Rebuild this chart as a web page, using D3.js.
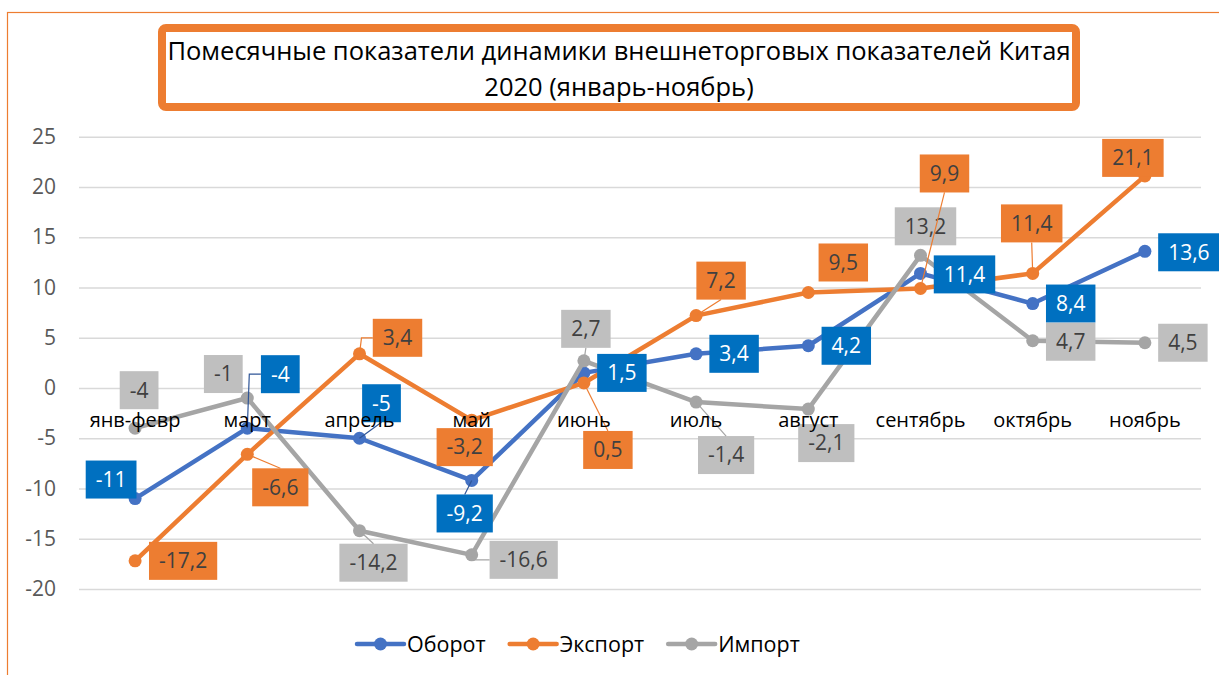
<!DOCTYPE html>
<html>
<head>
<meta charset="utf-8">
<script src="https://cdn.jsdelivr.net/npm/d3@7"></script>
<style>
  body { margin: 0; background: #fff; }
  svg { display: block; font-family: "Open Sans", sans-serif; }
</style>
</head>
<body>
<div id="chart"></div>
<script>
const W = 1219, H = 675;

// data
const titleLines = ["Помесячные показатели динамики внешнеторговых показателей Китая", "2020 (январь-ноябрь)"];
const months = ["янв-февр", "март", "апрель", "май", "июнь", "июль", "август", "сентябрь", "октябрь", "ноябрь"];
const seriesNames = ["Оборот", "Экспорт", "Импорт"];
const oborot  = [-11, -4, -5, -9.2, 1.5, 3.4, 4.2, 11.4, 8.4, 13.6];
const eksport = [-17.2, -6.6, 3.4, -3.2, 0.5, 7.2, 9.5, 9.9, 11.4, 21.1];
const import_ = [-4, -1, -14.2, -16.6, 2.7, -1.4, -2.1, 13.2, 4.7, 4.5];
const yTicks = [-20, -15, -10, -5, 0, 5, 10, 15, 20, 25];

/* label placement: [dx, dy] of label box centre from the point, leader: 0 none, 1 straight, 2 elbow */
const oborotLbl  = [[-24,-19,0],[33,-54,2],[22,-35,1],[-7,33,1],[38,0,0],[38,0,0],[38,0,0],[44,1,0],[38,0,0],[44,1,0]];
const eksportLbl = [[48,0,0],[33,33,1],[38,-16,2],[-7,27,0],[24,67,1],[25,-35,1],[35,-30,0],[24,-115,1],[-1,-50,1],[-12,-18,0]];
const importLbl  = [[4,-38,0],[-24,-24,0],[14,32,1],[52,5,2],[2,-32,1],[30,53,1],[18,34,0],[5,-29,0],[38,1,0],[38,0,0]];

const colors = {
  line:   ["#4472C4", "#ED7D31", "#A5A5A5"],
  box:    ["#0070C0", "#ED7D31", "#BFBFBF"],
  text:   ["#FFFFFF", "#404040", "#404040"],
  leader: ["#2F5597", "#ED7D31", "#A5A5A5"]
};

const series = [
  {name: seriesNames[0], values: oborot,  lbl: oborotLbl},
  {name: seriesNames[1], values: eksport, lbl: eksportLbl},
  {name: seriesNames[2], values: import_, lbl: importLbl}
];

const svg = d3.select("#chart").append("svg")
  .attr("width", W).attr("height", H);

/* outer chart frame (only top & left edges are in view) */
svg.append("rect")
  .attr("x", 7.5).attr("y", 12.5)
  .attr("width", 1400).attr("height", 900)
  .attr("fill", "none").attr("stroke", "#ED7D31").attr("stroke-width", 1.2);

/* title box */
svg.append("rect")
  .attr("x", 162).attr("y", 28).attr("width", 914).attr("height", 79)
  .attr("rx", 4)
  .attr("fill", "#fff").attr("stroke", "#ED7D31").attr("stroke-width", 8);

svg.append("g").selectAll("text")
  .data(titleLines)
  .join("text")
    .attr("x", 619)
    .attr("y", (d, i) => 60 + i * 36)
    .attr("text-anchor", "middle")
    .attr("font-size", 25.5)
    .attr("fill", "#000")
    .text(d => d);

const x = d3.scalePoint()
  .domain(months)
  .range([79, 1201])
  .padding(0.5);

const y = d3.scaleLinear()
  .domain([-20, 25])
  .range([589, 136.7]);

/* gridlines + y labels */
const yAxis = svg.append("g")
  .attr("transform", "translate(79,0)")
  .call(d3.axisLeft(y).tickValues(yTicks).tickSize(-1122).tickPadding(23)
    .tickFormat(d => String(d)));
yAxis.select(".domain").remove();
yAxis.selectAll(".tick line").attr("stroke", "#D9D9D9").attr("stroke-width", 1.5);
yAxis.selectAll(".tick text")
  .attr("font-family", "Open Sans, sans-serif")
  .attr("font-size", 21).attr("fill", "#595959");

/* lines and markers */
const line = d3.line()
  .x((d, i) => x(months[i]))
  .y(d => y(d));

series.forEach((s, si) => {
  const g = svg.append("g");
  g.append("path")
    .datum(s.values)
    .attr("d", line)
    .attr("fill", "none")
    .attr("stroke", colors.line[si])
    .attr("stroke-width", 4.5)
    .attr("stroke-linejoin", "round");
  g.selectAll("circle")
    .data(s.values)
    .join("circle")
      .attr("cx", (d, i) => x(months[i]))
      .attr("cy", d => y(d))
      .attr("r", 6.5)
      .attr("fill", colors.line[si]);
});

/* data labels */
const fmt = v => String(v).replace(".", ",");
const boxes = [];
series.forEach((s, si) => {
  const g = svg.append("g");
  s.values.forEach((v, i) => {
    const px = x(months[i]), py = y(v);
    const [dx, dy, leader] = s.lbl[i];
    const t = g.append("text")
      .attr("font-size", 21)
      .attr("fill", colors.text[si])
      .attr("text-anchor", "middle")
      .attr("dy", "0.35em")
      .text(fmt(v));
    const tw = t.node().getComputedTextLength();
    const bw = tw + 20, bh = 38;
    const cx = px + dx, cy = py + dy;
    t.attr("x", cx).attr("y", cy);
    g.insert("rect", () => t.node())
      .attr("x", cx - bw / 2).attr("y", cy - bh / 2)
      .attr("width", bw).attr("height", bh)
      .attr("fill", colors.box[si]);
    boxes.push({si, px, py, cx, cy, bw, bh, leader});
  });
});

/* leader lines */
const leaders = svg.append("g").attr("fill", "none").attr("stroke-width", 1.2);
boxes.filter(b => b.leader).forEach(b => {
  let pts;
  if (b.leader === 2) {
    pts = [[b.px, b.py], [b.px + 2, b.cy], [b.cx - b.bw / 2, b.cy]];
  } else {
    const ey = b.cy < b.py ? b.cy + b.bh / 2 : b.cy - b.bh / 2;
    pts = [[b.px, b.py], [b.cx, ey]];
  }
  leaders.append("path")
    .attr("d", d3.line()(pts))
    .attr("stroke", colors.leader[b.si]);
});

/* category labels */
svg.append("g").selectAll("text")
  .data(months)
  .join("text")
    .attr("x", d => x(d))
    .attr("y", 427)
    .attr("text-anchor", "middle")
    .attr("font-size", 20)
    .attr("fill", "#000")
    .text(d => d);

/* legend */
const legend = svg.append("g").attr("transform", "translate(0,644)");
let lx = 357;
series.forEach((s, si) => {
  const it = legend.append("g").attr("transform", `translate(${lx},0)`);
  it.append("line")
    .attr("x1", 0).attr("x2", 47)
    .attr("stroke", colors.line[si]).attr("stroke-width", 4.5)
    .attr("stroke-linecap", "round");
  it.append("circle").attr("cx", 23.5).attr("r", 6.5).attr("fill", colors.line[si]);
  const t = it.append("text")
    .attr("x", 50).attr("dy", "0.35em")
    .attr("font-size", 21.5).attr("fill", "#000")
    .text(s.name);
  lx += 50 + t.node().getComputedTextLength() + 24;
});
</script>
</body>
</html>
